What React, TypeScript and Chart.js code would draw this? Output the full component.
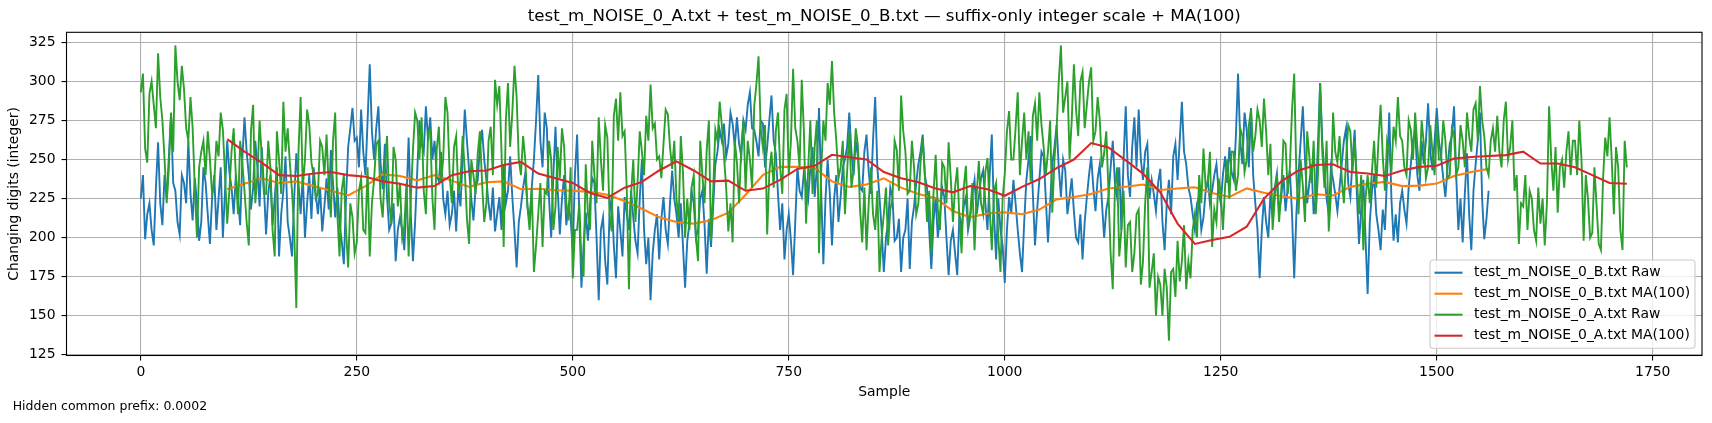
import React, { useEffect, useRef } from 'react';
import { Chart, registerables, Plugin } from 'chart.js';

Chart.register(...registerables);

const FONT = '"DejaVu Sans", sans-serif';

const TITLE = 'test_m_NOISE_0_A.txt + test_m_NOISE_0_B.txt — suffix-only integer scale + MA(100)';
const X_LABEL = 'Sample';
const Y_LABEL = 'Changing digits (integer)';
const FOOTNOTE = 'Hidden common prefix: 0.0002';

const legendLabels = [
    'test_m_NOISE_0_B.txt Raw',
    'test_m_NOISE_0_B.txt MA(100)',
    'test_m_NOISE_0_A.txt Raw',
    'test_m_NOISE_0_A.txt MA(100)',
];
const colors = ['#1f77b4', '#ff7f0e', '#2ca02c', '#d62728'];

const xTicks = [0, 250, 500, 750, 1000, 1250, 1500, 1750];
const yTicks = [125, 150, 175, 200, 225, 250, 275, 300, 325];

// raw series, read every 5 samples, plus in-between readings
const SAMPLE_STEP = 5;
const MID_OFFSET = 2.5;
const rawA = [
    293, 257, 292, 285, 318, 275, 222, 280, 323, 288, 295, 262, 270, 200, 255, 240, 250, 235, 252, 269,
    209, 255, 240, 262, 230, 195, 285, 240, 252, 228, 245, 188, 250, 287, 270, 230, 155, 290, 250, 272,
    240, 228, 258, 266, 213, 280, 188, 240, 181, 213, 197, 238, 203, 188, 237, 262, 213, 265, 209, 250,
    235, 207, 188, 256, 275, 277, 215, 269, 205, 271, 250, 280, 222, 265, 237, 243, 196, 240, 254, 235,
    222, 271, 301, 297, 194, 299, 280, 290, 240, 250, 205, 178, 215, 194, 228, 250, 220, 238, 258, 211,
    174, 205, 185, 247, 205, 240, 277, 230, 264, 204, 289, 293, 268, 167, 250, 235, 255, 278, 298, 273,
    252, 260, 279, 244, 225, 265, 200, 205, 240, 185, 240, 256, 198, 269, 287, 252, 204, 197, 248, 258,
    230, 250, 284, 316, 258, 202, 255, 268, 245, 282, 240, 308, 262, 301, 209, 275, 258, 190, 275, 299,
    313, 262, 245, 215, 268, 243, 259, 197, 192, 245, 205, 178, 215, 195, 225, 256, 291, 255, 230, 245,
    222, 264, 210, 190, 253, 205, 245, 261, 210, 245, 190, 246, 215, 192, 249, 215, 251, 192, 235, 178,
    241, 281, 250, 293, 262, 250, 236, 286, 293, 258, 255, 216, 270, 323, 290, 250, 311, 265, 306, 285,
    309, 268, 275, 254, 230, 167, 245, 205, 181, 210, 190, 218, 185, 245, 178, 150, 170, 180, 134, 180,
    198, 185, 167, 174, 215, 240, 257, 235, 194, 210, 228, 233, 225, 255, 240, 265, 250, 282, 265, 275,
    289, 240, 205, 240, 230, 260, 245, 305, 215, 233, 268, 235, 215, 299, 232, 204, 280, 248, 238, 250,
    268, 262, 215, 192, 240, 243, 232, 285, 230, 255, 271, 290, 262, 240, 269, 280, 240, 260, 245, 255,
    275, 250, 262, 240, 266, 245, 262, 280, 255, 286, 297, 265, 240, 270, 278, 245, 287, 258, 230, 196,
    220, 205, 225, 198, 209, 195, 284, 230, 216, 250, 255, 240, 262, 275, 198, 225, 203, 220, 192, 264,
    277, 215, 245, 192, 245,
];
const midA = [
    305, 248, 300, 270, 290, 250, 245, 255, 300, 310, 270, 290, 232, 245, 262, 268, 228, 262, 280, 240,
    230, 270, 215, 248, 210, 268, 222, 275, 228, 262, 205, 268, 228, 255, 248, 205, 255, 232, 282, 248,
    225, 262, 240, 232, 262, 215, 230, 205, 222, 190, 230, 205, 245, 222, 260, 225, 245, 222, 258, 220,
    200, 235, 225, 280, 250, 230, 268, 225, 256, 235, 290, 240, 258, 228, 265, 212, 250, 228, 268, 210,
    262, 240, 285, 255, 275, 258, 310, 250, 265, 220, 232, 195, 235, 230, 262, 205, 258, 270, 222, 245,
    205, 222, 175, 215, 262, 222, 250, 272, 215, 278, 262, 265, 230, 228, 210, 268, 240, 262, 270, 250,
    238, 282, 258, 262, 210, 242, 225, 232, 200, 262, 222, 275, 230, 262, 272, 232, 222, 262, 222, 275,
    262, 232, 298, 270, 272, 242, 232, 280, 228, 292, 262, 270, 245, 268, 245, 228, 275, 242, 262, 285,
    280, 238, 262, 242, 232, 270, 218, 232, 222, 215, 230, 200, 232, 218, 262, 230, 268, 228, 262, 215,
    248, 240, 230, 228, 218, 248, 222, 238, 232, 212, 232, 208, 235, 228, 222, 242, 218, 230, 200, 225,
    268, 250, 270, 240, 280, 268, 278, 262, 272, 240, 275, 250, 300, 280, 300, 275, 282, 300, 270, 300,
    262, 290, 245, 268, 190, 232, 188, 230, 208, 178, 215, 170, 222, 168, 190, 175, 150, 168, 178, 162,
    172, 208, 185, 205, 200, 222, 232, 255, 218, 238, 205, 250, 255, 230, 270, 242, 272, 255, 282, 258,
    268, 260, 225, 210, 262, 228, 282, 240, 250, 210, 252, 262, 240, 255, 262, 228, 255, 265, 222, 272,
    242, 238, 240, 225, 222, 262, 262, 252, 262, 242, 262, 265, 245, 275, 250, 258, 275, 238, 272, 240,
    250, 275, 238, 270, 240, 272, 245, 265, 282, 262, 275, 245, 262, 255, 255, 275, 250, 275, 240, 222,
    240, 230, 205, 232, 225, 222, 250, 258, 245, 232, 268, 262, 240, 250, 240, 200, 245, 196, 238, 252,
    250, 258, 205, 262,
];
const rawB = [
    225, 199, 222, 195, 261, 208, 225, 279, 230, 202, 235, 262, 211, 222, 210, 235, 196, 240, 225, 200,
    262, 232, 240, 208, 277, 240, 232, 245, 258, 202, 240, 225, 188, 230, 210, 188, 254, 215, 200, 240,
    245, 215, 204, 238, 256, 213, 209, 183, 258, 283, 264, 282, 240, 311, 250, 284, 231, 226, 209, 185,
    213, 192, 264, 185, 243, 260, 284, 277, 262, 236, 225, 230, 215, 204, 220, 282, 243, 211, 237, 269,
    237, 211, 204, 226, 247, 230, 226, 181, 220, 241, 211, 250, 304, 245, 270, 200, 271, 202, 240, 220,
    192, 266, 168, 216, 222, 235, 160, 213, 170, 226, 174, 205, 226, 205, 213, 190, 250, 183, 160, 205,
    186, 226, 196, 243, 215, 222, 168, 209, 222, 205, 230, 177, 194, 247, 269, 273, 260, 273, 277, 252,
    269, 293, 269, 252, 273, 258, 291, 254, 205, 186, 215, 176, 245, 226, 235, 245, 226, 283, 183, 250,
    195, 240, 226, 250, 280, 240, 252, 230, 266, 228, 290, 226, 178, 210, 226, 200, 178, 205, 180, 220,
    247, 266, 232, 180, 226, 213, 226, 176, 205, 176, 205, 226, 213, 237, 226, 243, 205, 266, 186, 205,
    171, 226, 237, 205, 178, 237, 265, 195, 237, 252, 197, 247, 272, 226, 243, 226, 217, 197, 186, 226,
    252, 217, 247, 200, 226, 262, 226, 205, 284, 226, 277, 282, 237, 260, 237, 217, 244, 192, 237, 252,
    237, 287, 247, 226, 205, 226, 213, 237, 230, 247, 222, 252, 258, 237, 305, 247, 269, 283, 222, 174,
    226, 200, 213, 241, 226, 217, 243, 174, 241, 284, 222, 247, 226, 299, 240, 215, 237, 217, 247, 270,
    226, 269, 196, 237, 164, 230, 215, 192, 205, 280, 198, 197, 230, 209, 247, 269, 230, 247, 286, 243,
    283, 252, 226, 260, 284, 205, 197, 254, 192, 247, 280, 199, 230,
];
const midB = [
    240, 215, 205, 232, 222, 240, 252, 235, 210, 240, 222, 228, 238, 198, 245, 215, 225, 205, 245, 230,
    242, 215, 225, 250, 255, 218, 262, 220, 232, 228, 208, 245, 215, 252, 200, 225, 235, 240, 222, 212,
    228, 232, 220, 218, 235, 232, 198, 225, 270, 262, 245, 255, 275, 268, 270, 248, 260, 205, 222, 205,
    205, 225, 215, 210, 275, 255, 262, 250, 240, 255, 215, 208, 230, 232, 250, 262, 225, 232, 258, 250,
    222, 232, 215, 205, 222, 252, 205, 210, 232, 220, 232, 275, 262, 280, 225, 240, 232, 225, 208, 212,
    240, 215, 195, 198, 238, 200, 205, 185, 215, 195, 220, 188, 215, 230, 198, 225, 205, 200, 190, 215,
    212, 205, 222, 225, 200, 195, 198, 230, 200, 225, 208, 212, 220, 255, 262, 252, 280, 258, 260, 275,
    285, 270, 262, 275, 245, 275, 262, 228, 222, 205, 198, 210, 230, 242, 225, 258, 245, 230, 225, 228,
    225, 210, 245, 258, 255, 262, 232, 255, 242, 262, 245, 205, 200, 232, 198, 212, 200, 225, 210, 235,
    255, 240, 205, 210, 200, 232, 200, 198, 190, 215, 220, 205, 228, 215, 238, 222, 240, 215, 225, 195,
    205, 215, 222, 190, 210, 250, 228, 218, 255, 225, 222, 258, 245, 250, 215, 238, 200, 215, 210, 240,
    232, 238, 222, 218, 245, 235, 245, 250, 240, 258, 245, 250, 255, 225, 228, 235, 210, 222, 215, 260,
    262, 255, 232, 215, 222, 205, 230, 222, 240, 230, 240, 235, 242, 265, 262, 280, 245, 240, 205, 205,
    210, 228, 232, 215, 240, 232, 215, 215, 262, 250, 235, 215, 260, 262, 225, 245, 228, 232, 262, 235,
    250, 228, 218, 200, 210, 240, 205, 218, 240, 225, 215, 222, 218, 232, 262, 240, 262, 262, 255, 262,
    262, 238, 245, 265, 240, 225, 228, 215, 230, 262, 225, 212,
];

// moving averages, read every 20 samples from sample 100
const MA_START = 100;
const MA_STEP = 20;
const maA = [
    263, 255, 248, 240, 239.5,
    241, 242, 240, 239, 236, 234.5, 232, 233, 240, 242.5,
    243, 246.5, 248.5, 241, 238, 235, 228.6, 225.4, 232, 235.7,
    243, 248.8, 243, 236, 236.5, 230, 231.4, 237, 244, 246,
    253, 251.5, 250, 242, 238, 235.5, 231.5, 229, 233, 231,
    226.8, 232.5, 237.5, 244.5, 250, 260.5, 257.7, 249.5, 241, 229,
    209, 196, 198.5, 200.5, 207, 225, 236, 243, 246.5, 247,
    242, 241, 239.5, 243, 245.3, 246, 250.6, 251.6, 252.3, 252.8,
    255, 247.4, 247.5, 245, 240, 235, 234.5,
];
const maB = [
    231, 234.5, 238, 235, 236,
    233, 230, 227, 233, 240.5, 239.5, 236.7, 240, 236.5, 232.5,
    235.5, 236, 231, 231.3, 230.3, 230, 229.3, 227.5, 223.5, 218.5,
    213, 210, 209, 211.2, 216, 227.5, 240, 245.3, 245.3, 244.5,
    236, 232.5, 234, 238, 232, 228, 225.2, 217, 213, 215.5,
    216.3, 215, 218, 224.5, 226, 228, 231.4, 232.6, 234, 230.5,
    231.5, 232.2, 228.6, 226, 231.5, 228.8, 226.5, 225, 227.8, 227,
    232.5, 234.5, 235.7, 233, 233.3, 234.6, 239.5, 242, 244,
];

type Pt = { x: number; y: number };

const toPoints = (vals: number[], start: number, step: number): Pt[] =>
    vals.map((y, i) => ({ x: start + i * step, y }));

// merge the on-step readings with the in-between readings
const rawPoints = (vals: number[], mids: number[]): Pt[] => {
    const out: Pt[] = [];
    vals.forEach((y, i) => {
        out.push({ x: i * SAMPLE_STEP, y });
        if (i < mids.length) out.push({ x: i * SAMPLE_STEP + MID_OFFSET, y: mids[i] });
    });
    return out;
};

const overlay: Plugin = {
    id: 'mplOverlay',
    afterDraw(chart) {
        const { ctx, chartArea: a } = chart;
        ctx.save();
        ctx.fillStyle = '#000';
        ctx.textBaseline = 'middle';

        // title and axis labels
        ctx.textAlign = 'center';
        ctx.font = `16.67px ${FONT}`;
        ctx.fillText(TITLE, (a.left + a.right) / 2, 16.7);
        ctx.font = `13.9px ${FONT}`;
        ctx.fillText(X_LABEL, (a.left + a.right) / 2, 392.3);
        ctx.save();
        ctx.translate(14.5, (a.top + a.bottom) / 2);
        ctx.rotate(-Math.PI / 2);
        ctx.fillText(Y_LABEL, 0, 0);
        ctx.restore();

        ctx.textAlign = 'left';
        ctx.font = `12.5px ${FONT}`;
        ctx.fillText(FOOTNOTE, 12.7, 406.7);

        // spines
        ctx.strokeStyle = '#000';
        ctx.lineWidth = 1.1;
        ctx.strokeRect(a.left, a.top, a.right - a.left, a.bottom - a.top);

        // legend, lower right
        const bx = 1430, by = 260, bw = 265, bh = 88.3, r = 3;
        ctx.beginPath();
        ctx.moveTo(bx + r, by);
        ctx.arcTo(bx + bw, by, bx + bw, by + bh, r);
        ctx.arcTo(bx + bw, by + bh, bx, by + bh, r);
        ctx.arcTo(bx, by + bh, bx, by, r);
        ctx.arcTo(bx, by, bx + bw, by, r);
        ctx.closePath();
        ctx.fillStyle = 'rgba(255,255,255,0.8)';
        ctx.fill();
        ctx.strokeStyle = '#cccccc';
        ctx.lineWidth = 1.1;
        ctx.stroke();

        ctx.font = `13.9px ${FONT}`;
        legendLabels.forEach((label, i) => {
            const y = 272.7 + i * 21;
            ctx.strokeStyle = colors[i];
            ctx.lineWidth = 2.08;
            ctx.beginPath();
            ctx.moveTo(1434.5, y);
            ctx.lineTo(1462.5, y);
            ctx.stroke();
            ctx.fillStyle = '#000';
            ctx.fillText(label, 1474, y);
        });
        ctx.restore();
    },
};

const tickFont = { family: FONT, size: 13.9 };
const gridOpts = {
    color: '#b0b0b0',
    lineWidth: 1.1,
    tickColor: '#000',
    tickLength: 5,
    tickWidth: 1.1,
};

export default function App() {
    const chartRef = useRef<HTMLCanvasElement>(null);

    useEffect(() => {
        if (!chartRef.current) return;
        const line = (i: number, data: Pt[], order: number, width: number) => ({
            label: legendLabels[i],
            data,
            borderColor: colors[i],
            backgroundColor: colors[i],
            borderWidth: width,
            pointRadius: 0,
            tension: 0,
            fill: false,
            order,
        });
        const chart = new Chart(chartRef.current, {
            type: 'line',
            data: {
                datasets: [
                    line(0, rawPoints(rawB, midB), 4, 1.9),
                    line(1, toPoints(maB, MA_START, MA_STEP), 3, 2.08),
                    line(2, rawPoints(rawA, midA), 2, 1.9),
                    line(3, toPoints(maA, MA_START, MA_STEP), 1, 2.08),
                ],
            },
            options: {
                animation: false,
                responsive: false,
                events: [],
                layout: { padding: { left: 0, right: 10, top: 32.3, bottom: 0 } },
                plugins: { legend: { display: false }, tooltip: { enabled: false }, title: { display: false } },
                scales: {
                    x: {
                        type: 'linear',
                        min: -86,
                        max: 1807,
                        afterBuildTicks: (s) => {
                            s.ticks = xTicks.map((value) => ({ value }));
                        },
                        afterFit: (s) => {
                            s.height = 67.5;
                        },
                        ticks: {
                            color: '#000',
                            font: tickFont,
                            padding: 4,
                            maxRotation: 0,
                            autoSkip: false,
                            callback: (v) => String(v),
                        },
                        grid: gridOpts,
                        border: { display: false },
                    },
                    y: {
                        type: 'linear',
                        min: 124.6,
                        max: 331.4,
                        afterBuildTicks: (s) => {
                            s.ticks = yTicks.map((value) => ({ value }));
                        },
                        afterFit: (s) => {
                            s.width = 66.5;
                        },
                        ticks: {
                            color: '#000',
                            font: tickFont,
                            padding: 6,
                            autoSkip: false,
                            callback: (v) => String(v),
                        },
                        grid: gridOpts,
                        border: { display: false },
                    },
                },
            },
            plugins: [overlay],
        });
        return () => {
            chart.destroy();
        };
    }, [chartRef]);

    return (
        <div style={{ position: 'fixed', left: 0, top: 0, width: 1712, height: 423, background: '#fff' }}>
            <canvas ref={chartRef} width={1712} height={423} style={{ display: 'block' }} />
        </div>
    );
}
